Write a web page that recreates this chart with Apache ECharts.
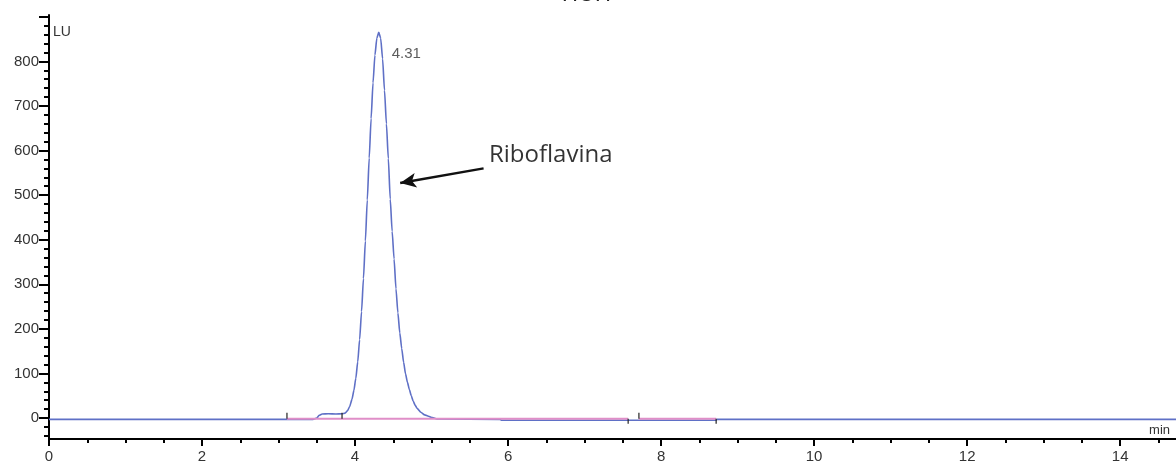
<!DOCTYPE html>
<html>
<head>
<meta charset="utf-8">
<script src="https://cdn.jsdelivr.net/npm/echarts@6/dist/echarts.min.js"></script>
<style>html,body{margin:0;padding:0;background:#fff}#c{width:1176px;height:464px}</style>
</head>
<body>
<div id="c"></div>
<script>
// ---- data ----
const chartTitle = 'HOH';
const yName = 'LU';
const xName = 'min';
const traceTime = [0, 3.11, 3.45, 3.5, 3.53, 3.57, 3.65, 3.75, 3.83, 3.87, 3.9, 3.93, 3.96, 3.985, 4.01, 4.035, 4.06, 4.085, 4.11, 4.135, 4.16, 4.185, 4.21, 4.235, 4.26, 4.285, 4.31, 4.335, 4.36, 4.385, 4.41, 4.435, 4.46, 4.485, 4.51, 4.535, 4.56, 4.585, 4.61, 4.635, 4.66, 4.685, 4.71, 4.735, 4.76, 4.785, 4.81, 4.86, 4.91, 4.96, 5.01, 5.07, 5.9, 5.91, 7.57, 7.71, 8.72, 8.73, 14.73];
const traceSignal = [-3, -3, -3, 0, 6, 9, 9.5, 9, 9.5, 11, 16, 26, 42, 62, 89, 126, 176, 239, 313, 397, 489, 583, 672, 752, 814, 852, 865, 852, 806, 735, 660, 582, 491, 419, 357, 290, 236, 191, 156, 125, 99, 80, 64, 50, 38, 29, 22, 13, 7, 4, 1, -2, -3, -5, -5, -5, -5, -3, -3];
const baselineStart = [3.11, 7.71];
const baselineEnd = [7.57, 8.72];
const baselineLevel = -1.5;
const eventUp = [3.11, 3.83, 7.71];
const eventDown = [7.57, 8.72];
const peakTime = 4.31;
const peakHeight = 865;
const peakName = 'Riboflavina';
const peakNamePos = [5.75, 589];
const arrowFrom = [5.68, 560];
const arrowTo = [4.59, 527];
const xTicks = [0, 2, 4, 6, 8, 10, 12, 14];
const xMinorTicks = [0.5, 1, 1.5, 2.5, 3, 3.5, 4.5, 5, 5.5, 6.5, 7, 7.5, 8.5, 9, 9.5, 10.5, 11, 11.5, 12.5, 13, 13.5, 14.5];
const yLabels = [0, 100, 200, 300, 400, 500, 600, 700, 800];
const yTicks = [0, 100, 200, 300, 400, 500, 600, 700, 800, 900];
const yMinorTicks = [-40, -20, 20, 40, 60, 80, 120, 140, 160, 180, 220, 240, 260, 280, 320, 340, 360, 380, 420, 440, 460, 480, 520, 540, 560, 580, 620, 640, 660, 680, 720, 740, 760, 780, 820, 840, 860, 880];
const xMin = 0, xMax = 14.73, yMin = -47, yMax = 904;

// ---- build ----
const traceData = traceTime.map((t, i) => [t, traceSignal[i]]);
const baseData = [];
baselineStart.forEach((s, i) => {
  baseData.push([s, baselineLevel], [baselineEnd[i], baselineLevel], [baselineEnd[i], '-']);
});
const font = 'Liberation Sans, Arial, sans-serif';

const chart = echarts.init(document.getElementById('c'), null, {renderer: 'canvas'});
chart.setOption({
  animation: false,
  backgroundColor: '#fff',
  graphic: [{
    type: 'text', left: 562, top: -16,
    style: {text: chartTitle, font: '22px Liberation Sans', fill: '#222'}
  }],
  grid: {left: 49, right: 0, top: 15, bottom: 23},
  xAxis: [{
    type: 'value', min: xMin, max: xMax, position: 'bottom',
    name: xName, nameLocation: 'end', nameGap: -6,
    nameTextStyle: {align: 'right', verticalAlign: 'bottom', padding: [0, 0, 2, 0], fontSize: 13, color: '#333', fontFamily: font},
    axisLine: {onZero: false, lineStyle: {color: '#000', width: 2}},
    axisTick: {show: true, customValues: xTicks, length: 7, lineStyle: {color: '#000', width: 2}},
    axisLabel: {customValues: xTicks, margin: 10, fontSize: 15, color: '#333', fontFamily: font},
    splitLine: {show: false}
  }, {
    type: 'value', min: xMin, max: xMax, position: 'bottom',
    axisLine: {show: false, onZero: false},
    axisTick: {show: true, customValues: xMinorTicks, length: 4, lineStyle: {color: '#000', width: 2}},
    axisLabel: {show: false},
    splitLine: {show: false}
  }],
  yAxis: [{
    type: 'value', min: yMin, max: yMax, position: 'left',
    name: yName, nameLocation: 'end', nameGap: -10,
    nameTextStyle: {align: 'left', verticalAlign: 'top', padding: [0, 0, 0, 4], fontSize: 14, color: '#333', fontFamily: font},
    axisLine: {show: true, onZero: false, lineStyle: {color: '#000', width: 2}},
    axisTick: {show: true, customValues: yTicks, length: 10, lineStyle: {color: '#000', width: 2}},
    axisLabel: {customValues: yLabels, margin: 10, fontSize: 15, color: '#333', fontFamily: font},
    splitLine: {show: false}
  }, {
    type: 'value', min: yMin, max: yMax, position: 'left',
    axisLine: {show: false, onZero: false},
    axisTick: {show: true, customValues: yMinorTicks, length: 5, lineStyle: {color: '#000', width: 2}},
    axisLabel: {show: false},
    splitLine: {show: false}
  }],
  series: [{
    type: 'line', data: traceData, showSymbol: false, smooth: 0.2, smoothMonotone: 'x',
    lineStyle: {color: '#5f70c6', width: 1.6}, z: 2,
    markLine: {
      silent: true, symbol: ['none', 'arrow'], symbolSize: [11, 16],
      lineStyle: {color: '#111', width: 2.5, type: 'solid'},
      label: {show: false},
      data: [[{coord: arrowFrom}, {coord: arrowTo}]]
    }
  }, {
    type: 'line', data: baseData, showSymbol: false, connectNulls: false,
    lineStyle: {color: '#e08ec8', width: 2}, z: 3
  }, {
    type: 'scatter', data: eventUp.map(t => [t, baselineLevel]), symbol: 'rect', symbolSize: [1.5, 6], symbolOffset: [0, -3],
    itemStyle: {color: '#222'}, z: 4
  }, {
    type: 'scatter', data: eventDown.map(t => [t, baselineLevel]), symbol: 'rect', symbolSize: [1.5, 5], symbolOffset: [0, 2.5],
    itemStyle: {color: '#222'}, z: 4
  }, {
    type: 'scatter', data: [[peakTime, peakHeight]], symbolSize: 0,
    label: {show: true, position: 'right', distance: 0, offset: [13, 21], formatter: p => p.value[0].toFixed(2), fontSize: 15, color: '#333', fontFamily: font}
  }, {
    type: 'scatter', data: [peakNamePos], symbolSize: 0,
    label: {show: true, position: 'right', distance: 0, formatter: peakName, fontSize: 24, color: '#000', fontFamily: 'Open Sans'}
  }]
});
</script>
</body>
</html>
